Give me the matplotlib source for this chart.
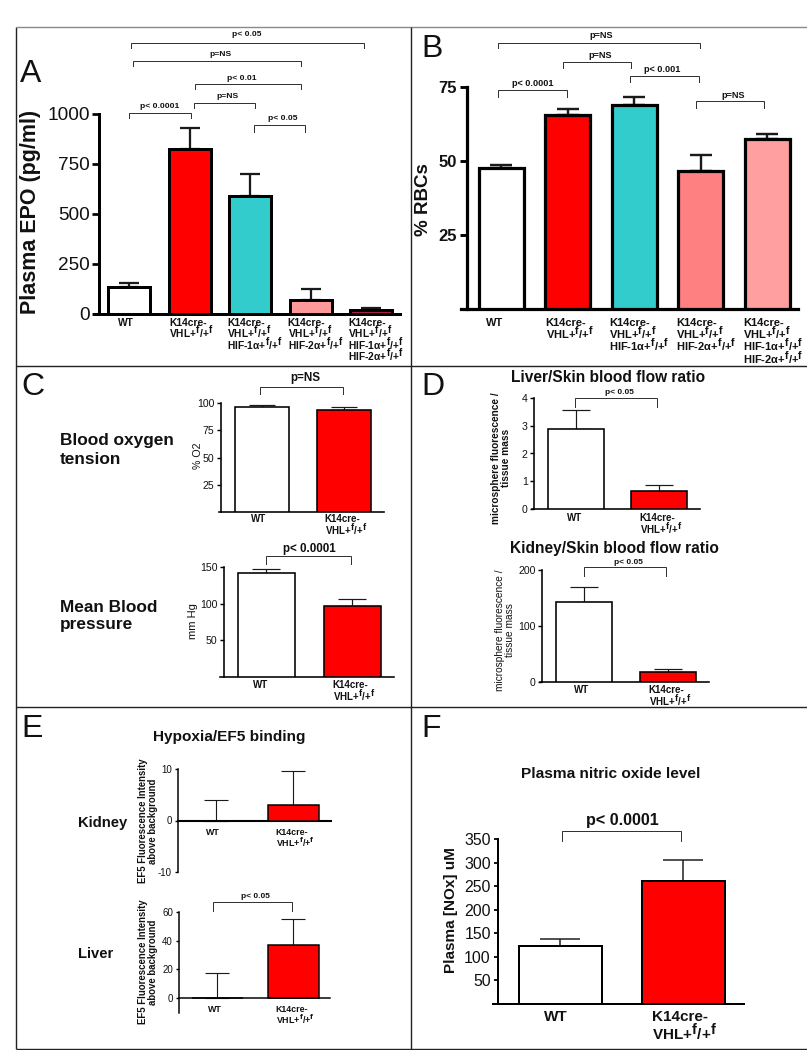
import matplotlib
matplotlib.use("Agg")
import matplotlib.pyplot as plt
import matplotlib._mathtext as _mt
from matplotlib.transforms import ScaledTranslation

_mt.SHRINK_FACTOR = 0.95  # the superscript f in the figure is nearly full size

plt.rcParams.update({
    "font.family": ["Liberation Sans", "DejaVu Sans"],
    "mathtext.fontset": "custom",
    "mathtext.rm": "Liberation Sans",
    "mathtext.it": "Liberation Sans:italic",
    "mathtext.bf": "Liberation Sans:bold",
    "mathtext.default": "bf",
    "mathtext.fallback": "stixsans",
    "axes.unicode_minus": False,
})

# ---------- data ----------
WT = "WT"
VHL = "K14cre-\nVHL+$^{f}$/+$^{f}$"
VHL1 = VHL + "\nHIF-1\u03b1+$^{f}$/+$^{f}$"
VHL2 = VHL + "\nHIF-2\u03b1+$^{f}$/+$^{f}$"
VHL12 = VHL1 + "\nHIF-2\u03b1+$^{f}$/+$^{f}$"

labels_five = [WT, VHL, VHL1, VHL2, VHL12]
labels_two = [WT, VHL]

epo_values = [133, 825, 590, 68, 20]
epo_errors = [22, 105, 110, 55, 8]
epo_colors = ["white", "#FF0000", "#33CCCC", "#FF9999", "#A8204A"]
epo_ticks = [0, 250, 500, 750, 1000]

rbc_values = [47.5, 65.5, 69, 46.5, 57.5]
rbc_errors = [1.0, 2.0, 2.5, 5.5, 1.7]
rbc_colors = ["white", "#FF0000", "#33CCCC", "#FF8080", "#FF9F9F"]
rbc_ticks = [25, 50, 75]

two_colors = ["white", "#FF0000"]

o2_values = [96, 93.5]
o2_errors = [2, 2.5]
o2_ticks = [25, 50, 75, 100]

bp_values = [142, 97]
bp_errors = [5, 10]
bp_ticks = [50, 100, 150]

liver_flow_values = [2.88, 0.65]
liver_flow_errors = [0.67, 0.2]
liver_flow_ticks = [0, 1, 2, 3, 4]

kidney_flow_values = [142, 17]
kidney_flow_errors = [28, 6]
kidney_flow_ticks = [0, 100, 200]

ef5_kidney_values = [0, 3]
ef5_kidney_errors = [4, 6.7]
ef5_kidney_ticks = [-10, 0, 10]

ef5_liver_values = [0, 37]
ef5_liver_errors = [17.5, 18]
ef5_liver_ticks = [0, 20, 40, 60]

nox_values = [124, 261]
nox_errors = [13, 45]
nox_ticks = [50, 100, 150, 200, 250, 300, 350]

# ---------- layout helpers (pixel based) ----------
W, H = 807, 1050
DPI = 100
PT = 72 / DPI
INK = "#111111"

fig = plt.figure(figsize=(W / DPI, H / DPI), dpi=DPI, facecolor="white")


def bar_panel(values, errors, colors, labels, ticks, ylim, box, centers, width,
              lw, tick_size, label_size, label_shift, spine_x, tick_bold=False,
              label_pad=3, cap=None, drop=0, spacing=0.82):
    """box = (tail px, right px, top px, bottom px)"""
    tail, right, top, bottom = box
    c0, c1 = centers[0], centers[1]
    step = c1 - c0
    ax = fig.add_axes([tail / W, 1 - bottom / H, (right - tail) / W, (bottom - top) / H])
    ax.patch.set_alpha(0)
    ax.set_xlim((tail - c0) / step, (right - c0) / step)
    ax.set_ylim(*ylim)
    xs = list(range(len(values)))
    ax.bar(xs, values, width=width / step, color=colors, edgecolor="black",
           linewidth=lw * PT, zorder=3)
    ax.errorbar(xs, values, yerr=[[0] * len(errors), errors], fmt="none",
                ecolor="#1a1a1a", elinewidth=lw * 0.75 * PT, capthick=lw * 0.75 * PT,
                capsize=cap * PT, zorder=2)
    for s in ("top", "right"):
        ax.spines[s].set_visible(False)
    ax.spines["left"].set_position(("data", (spine_x - c0) / step))
    ax.spines["left"].set_linewidth(lw * PT)
    ax.spines["bottom"].set_linewidth(lw * PT)
    ax.spines["bottom"].set_position(("data", 0))
    ax.set_yticks(ticks)
    ax.tick_params(axis="y", length=lw * 2.2 * PT, width=lw * 0.9 * PT, pad=2,
                   labelsize=tick_size, labelcolor=INK)
    for t in ax.get_yticklabels():
        t.set_fontweight("bold" if tick_bold else "normal")
    ax.set_xticks(xs)
    ax.set_xticklabels(labels, fontsize=label_size, fontweight="bold", color=INK,
                       linespacing=spacing, ma="left", va="top")
    ax.tick_params(axis="x", length=0, pad=label_pad)
    for t, dx in zip(ax.get_xticklabels(), label_shift):
        t.set_transform(t.get_transform() + ScaledTranslation(dx / DPI, -drop / DPI, fig.dpi_scale_trans))
    return ax


# ---------- panels ----------
bar_panel(epo_values, epo_errors, epo_colors, labels_five, epo_ticks, (0, 1000),
          (94, 400, 114, 314), [129, 189.5], 42, 3.0, 13.7, 7.4,
          [-3, 2, 5, 5, 5], 99, cap=10, spacing=0.66)

bar_panel(rbc_values, rbc_errors, rbc_colors, labels_five, rbc_ticks, (0, 75),
          (461, 798, 87, 309), [501, 567.5], 45, 3.2, 12, 8,
          [-6, 2, 5, 6, 6], 467, tick_bold=True, cap=11, drop=5, spacing=0.71)

bar_panel(o2_values, o2_errors, two_colors, labels_two, o2_ticks, (0, 100),
          (219, 384, 403, 512), [262, 344], 54, 1.6, 7.6, 7,
          [-3, 2], 221, cap=13, drop=-2)

bar_panel(bp_values, bp_errors, two_colors, labels_two, bp_ticks, (0, 150),
          (220, 394, 567, 677), [266, 352], 57, 1.6, 7.6, 7,
          [-5, 2], 224, cap=14, drop=-1)

bar_panel(liver_flow_values, liver_flow_errors, two_colors, labels_two, liver_flow_ticks, (0, 4),
          (532, 700, 398, 509), [576, 659], 56, 1.6, 7.6, 7,
          [-1, 2], 534, cap=14)

bar_panel(kidney_flow_values, kidney_flow_errors, two_colors, labels_two, kidney_flow_ticks, (0, 200),
          (540, 709, 570, 682), [584, 668], 56, 1.6, 7.6, 7,
          [-2, 2], 542, cap=14, drop=-1)

ax = bar_panel(ef5_kidney_values, ef5_kidney_errors, two_colors, labels_two, ef5_kidney_ticks, (-10, 10),
               (178, 331, 769, 872), [216, 293], 51, 1.5, 7, 6.4,
               [-3, 2], 178, cap=12, drop=3)
ax.spines["bottom"].set_linewidth(1.5)

bar_panel(ef5_liver_values, ef5_liver_errors, two_colors, labels_two, ef5_liver_ticks, (-10.5, 60),
          (179, 330, 912, 1013), [217, 293], 51, 1.5, 7, 6.4,
          [-2, 2], 179, cap=12, drop=3)

bar_panel(nox_values, nox_errors, two_colors, labels_two, nox_ticks, (0, 350),
          (493, 744, 839, 1004), [560, 683], 83, 2.0, 11.4, 11,
          [-4, 2], 498, cap=20, label_pad=4, spacing=0.92)

# ---------- overlay: frame, brackets, free text ----------
ov = fig.add_axes([0, 0, 1, 1], zorder=20)
ov.set_xlim(0, W)
ov.set_ylim(H, 0)
ov.axis("off")
ov.patch.set_alpha(0)

frame = [
    ((16, 16), (27, 1049), "#222222"),
    ((16, 807), (27, 27), "#8a8a8a"),
    ((411, 411), (27, 1049), "#222222"),
    ((16, 807), (366, 366), "#222222"),
    ((16, 807), (707, 707), "#222222"),
    ((16, 807), (1049, 1049), "#222222"),
]
for xs_, ys_, c in frame:
    ov.plot(xs_, ys_, color=c, lw=1.4 * PT, solid_capstyle="butt")


def bracket(text, x0, x1, y, drop, tx, ty, size):
    ov.plot([x0, x0, x1, x1], [drop, y, y, drop], color="#333333", lw=1.0 * PT,
            solid_joinstyle="miter")
    ov.text(tx, ty, text, ha="center", va="center", fontsize=size, fontweight="bold", color=INK)


for b in [
    ("p< 0.05", 131, 364, 43, 48, 247, 35, 6.1),
    ("p=NS", 133, 301, 61, 66, 220, 55, 6.1),
    ("p< 0.01", 195, 301, 84, 89, 242, 78, 6.1),
    ("p=NS", 194, 255, 103, 108, 227, 96, 6.1),
    ("p< 0.0001", 129, 191, 113, 118, 160, 107, 6.1),
    ("p< 0.05", 254, 305, 125, 132, 283, 118, 6.1),
    ("p=NS", 498, 700, 43, 48, 601, 36, 6.6),
    ("p=NS", 563, 631, 62, 68, 600, 55, 6.6),
    ("p< 0.001", 630, 699, 76, 82, 662, 70, 6.6),
    ("p< 0.0001", 498, 567, 90, 97, 533, 84, 6.6),
    ("p=NS", 696, 764, 101, 108, 733, 95, 6.6),
    ("p=NS", 260, 343, 387, 394, 305, 378, 8.4),
    ("p< 0.0001", 266, 351, 556, 564, 309, 549, 8.4),
    ("p< 0.05", 575, 657, 398, 407, 619, 393, 6),
    ("p< 0.05", 584, 666, 567, 576, 628, 562, 6),
    ("p< 0.05", 213, 292, 902, 911, 255, 897, 6),
    ("p< 0.0001", 562, 681, 831, 841, 622, 820, 11.6),
]:
    bracket(*b)

# panel letters
for letter, x, y in [("A", 20, 74), ("B", 421, 49), ("C", 21, 387),
                     ("D", 421, 387), ("E", 21, 729), ("F", 421, 729)]:
    ov.text(x, y, letter, fontsize=23, ha="left", va="center", color=INK)

# y-axis labels
for txt, x, y, size, weight in [
    ("Plasma EPO (pg/ml)", 31, 212, 15.5, "bold"),
    ("% RBCs", 424, 200, 13.5, "bold"),
    ("% O2", 198, 456, 7.7, "normal"),
    ("mm Hg", 193, 621, 8, "normal"),
    ("microsphere fluorescence /\ntissue mass", 501, 458, 7.3, "bold"),
    ("microsphere fluorescence /\ntissue mass", 505, 630, 7.3, "normal"),
    ("EF5 Fluorescence Intensity\nabove background", 148, 821, 6.9, "bold"),
    ("EF5 Fluorescence Intensity\nabove background", 148, 962, 6.9, "bold"),
    ("Plasma [NOx] uM", 451, 910, 11, "bold"),
]:
    ov.text(x, y, txt, rotation=90, ha="center", va="center", ma="center", fontsize=size,
            fontweight=weight, color=INK, linespacing=1.0)

# headings
for txt, x, y, size, ha, sp in [
    ("Blood oxygen\ntension", 60, 450, 12.4, "left", 1.25),
    ("Mean Blood\npressure", 60, 616, 12.4, "left", 1.25),
    ("Liver/Skin blood flow ratio", 608, 378, 11.2, "center", 1.0),
    ("Kidney/Skin blood flow ratio", 614, 548, 11.2, "center", 1.0),
    ("Hypoxia/EF5 binding", 229, 737, 11.1, "center", 1.0),
    ("Kidney", 78, 823, 10.6, "left", 1.0),
    ("Liver", 78, 954, 10.6, "left", 1.0),
    ("Plasma nitric oxide level", 611, 774, 11.1, "center", 1.0),
]:
    ov.text(x, y, txt, ha=ha, va="center", fontsize=size, fontweight="bold", color=INK,
            linespacing=sp)

fig.savefig("out.png", dpi=DPI, facecolor="white")
